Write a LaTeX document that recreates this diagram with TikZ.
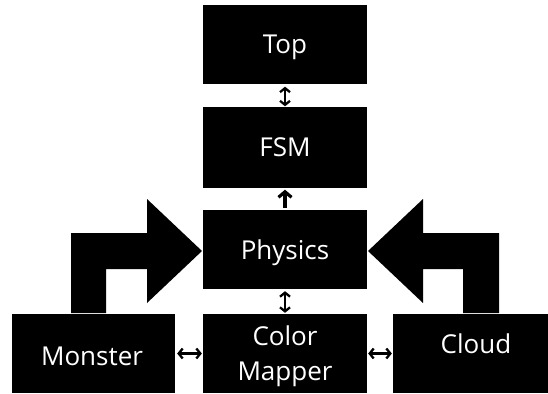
\documentclass[tikz,border=0pt]{standalone}
\usepackage{fontspec}
\setmainfont{Open Sans}
\usetikzlibrary{arrows.meta}
\begin{document}
\begin{tikzpicture}[x=1pt,y=-1pt,
  box/.style={fill=black,draw=none,text=white,inner sep=0pt,text depth=0pt,
    font=\fontsize{26}{35}\selectfont,align=center},
  lbl/.style={text=white,inner sep=0pt,font=\fontsize{26}{35}\selectfont,align=center},
  dbl/.style={line width=2.3pt,{Straight Barb[length=4pt,width=10pt]}-{Straight Barb[length=4pt,width=10pt]}},
  upar/.style={line width=3.2pt,-{Straight Barb[length=5.5pt,width=13pt]}},
  bigarrow/.style={fill=black,draw=none}]
\useasboundingbox (0,0) rectangle (548,393);
\node[box,minimum width=164pt,minimum height=79pt] (top) at (285,44.5) {Top};
\node[box,minimum width=164pt,minimum height=80pt] (fsm) at (285,147.5) {FSM};
\node[box,minimum width=164pt,minimum height=79pt] (phys) at (285,249.5) {Physics};
\node[box,minimum width=164pt,minimum height=79pt] (cmap) at (285,353.5) {};
\node[box,minimum width=163pt,minimum height=79pt] (mon) at (93.5,353.5) {};
\node[box,minimum width=155pt,minimum height=79pt] (cloud) at (470.5,353.5) {};
\node[lbl] (montxt) at (92,356) {Monster};
\node[lbl] (cmaptxt) at (285,356) {Color\\Mapper};
\node[lbl] (cloudtxt) at (476,343.5) {Cloud};
% big bent arrows
\path[bigarrow] (71,313) -- (71,233) -- (147,233) -- (147,199) -- (202,251)
  -- (147,303) -- (147,269) -- (106,269) -- (106,313) -- cycle;
\path[bigarrow] (499,313) -- (499,233) -- (423,233) -- (423,199) -- (368,251)
  -- (423,303) -- (423,269) -- (463,269) -- (463,313) -- cycle;
% small connectors
\draw[dbl,shorten <=2.5pt,shorten >=1pt] (top) -- (fsm);
\draw[upar,shorten <=2pt,shorten >=2pt] (phys) -- (fsm);
\draw[dbl,shorten <=2pt,shorten >=1pt] (phys) -- (cmap);
\draw[dbl,shorten <=2pt,shorten >=1pt] (mon.east) -- (cmap.west);
\draw[dbl,shorten <=1pt,shorten >=1pt] (cmap.east) -- (cloud.west);
\end{tikzpicture}
\end{document}
